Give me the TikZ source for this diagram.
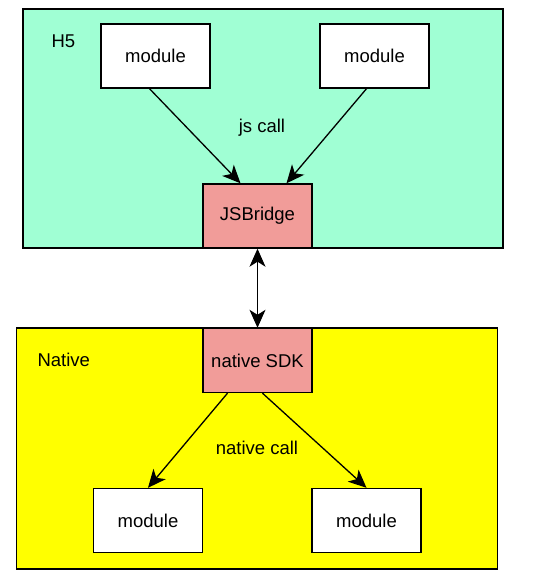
\documentclass[tikz,border=0pt]{standalone}
\usepackage{fontspec}
\setmainfont{Liberation Sans}
\usetikzlibrary{arrows.meta,calc}
\definecolor{hfivegreen}{HTML}{A0FFD4}
\definecolor{bridgered}{HTML}{F19C99}
\definecolor{nativeyellow}{HTML}{FFFF00}

\begin{document}
\begin{tikzpicture}[x=1pt,y=-1pt,
 txt/.style={font=\fontsize{18.5}{22}\selectfont},
 layer/.style={draw,line width=1.5pt,inner sep=0pt},
 box/.style={draw,line width=1.4pt,fill=white,minimum width=109pt,minimum height=64pt,inner sep=0pt,txt},
 call/.style={-{Stealth[length=18pt,width=16pt,inset=5pt]},line width=1.3pt}]
 \useasboundingbox (0,0) rectangle (535,580);
 % H5 side
 \node[layer,fill=hfivegreen,minimum width=480pt,minimum height=239pt] (h5) at (263,128.5) {};
 \node[txt,anchor=west] (h5name) at (48,41) {H5};
 \node[box] (hmodA) at (155.5,56) {module};
 \node[box] (hmodB) at (374.5,56) {module};
 \node[box,fill=bridgered] (bridge) at (257.5,216) {JSBridge};
 \node[txt] (jscall) at (262,128) {js call};
 \draw[call] ($(hmodA.south)+(-6,0)$) -- ($(bridge.north)+(-17,0)$);
 \draw[call] ($(hmodB.south)+(-8,0)$) -- ($(bridge.north)+(29,0)$);
 % Native side
 \node[layer,fill=nativeyellow,minimum width=481pt,minimum height=241pt] (native) at (257,448.5) {};
 \node[txt,anchor=west] (nativename) at (34,360) {Native};
 \node[box,fill=bridgered] (sdk) at (257.5,360.5) {native SDK};
 \node[box] (nmodA) at (148,520.5) {module};
 \node[box] (nmodB) at (366.5,520.5) {module};
 \node[txt] (nativecall) at (257,448) {native call};
 \draw[call] ($(sdk.south)+(-30,0)$) -- (nmodA.north);
 \draw[call] ($(sdk.south)+(5,0)$) -- (nmodB.north);
 % bridge link
 \draw[call,{Stealth[length=18pt,width=16pt,inset=5pt]}-{Stealth[length=18pt,width=16pt,inset=5pt]}] (bridge.south) -- (sdk.north);
\end{tikzpicture}
\end{document}
